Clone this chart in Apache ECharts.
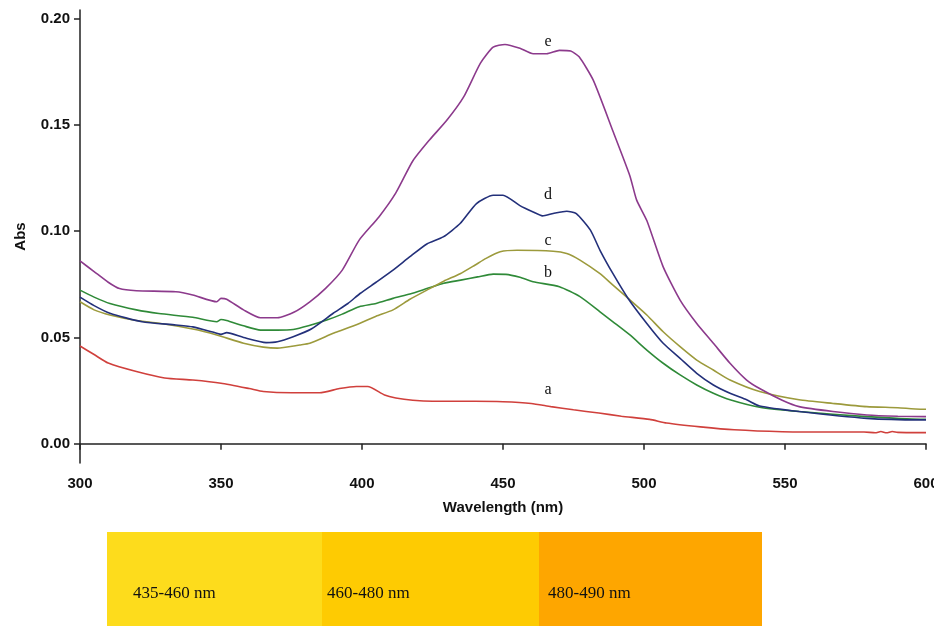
<!DOCTYPE html>
<html>
<head>
<meta charset="utf-8">
<script src="https://cdn.jsdelivr.net/npm/echarts@6/dist/echarts.min.js"></script>
<style>html,body{margin:0;padding:0;background:#fff;overflow:hidden;}#c{width:934px;height:626px;}</style>
</head>
<body>
<div id="c"></div>
<script>
// ---- data (wavelength nm, absorbance) ----
const seriesA = [[300,0.046],[305,0.042],[310,0.038],[320,0.034],[330,0.031],[340,0.030],[350,0.0285],[360,0.026],[365,0.0246],[375,0.024],[385,0.024],[392,0.026],[398,0.027],[402,0.027],[408,0.023],[412,0.0216],[418,0.0205],[425,0.020],[440,0.020],[450,0.0198],[460,0.019],[467,0.0175],[475,0.016],[484,0.0145],[492,0.013],[502,0.0115],[508,0.0098],[520,0.008],[532,0.0066],[549,0.0057],[565,0.0056],[578,0.0056],[582,0.0052],[584,0.0058],[586,0.0052],[588,0.0058],[590,0.0054],[598,0.0053],[600,0.0053]];
const seriesB = [[300,0.0723],[305,0.069],[310.6,0.066],[320,0.063],[328,0.0613],[340,0.0595],[348.5,0.0574],[350,0.0585],[352,0.058],[358,0.0555],[364,0.0535],[370,0.0535],[375.6,0.0538],[381,0.0555],[387.5,0.0582],[393,0.061],[399,0.0645],[405,0.066],[411,0.0684],[417,0.0705],[423,0.073],[429,0.0755],[435,0.077],[441,0.0785],[446.5,0.0798],[451,0.0797],[456,0.0783],[460.7,0.0762],[470,0.0739],[477.3,0.0692],[484.4,0.0621],[489,0.0574],[495,0.0512],[501,0.0441],[506.8,0.0379],[512.8,0.0324],[518.7,0.0277],[524.6,0.0238],[530.5,0.0207],[541,0.0172],[555,0.0152],[579,0.0128],[598,0.0116],[600,0.0116]];
const seriesC = [[300,0.0668],[305,0.063],[310.6,0.0606],[320,0.058],[328,0.0567],[340,0.054],[348.5,0.0512],[358,0.0473],[365,0.0455],[370,0.045],[378,0.0465],[381.5,0.0473],[389.8,0.052],[393,0.0535],[399.3,0.0567],[405,0.060],[411,0.063],[417,0.068],[423,0.0723],[429,0.0765],[434.8,0.080],[440,0.084],[444,0.0872],[449,0.0903],[455,0.091],[467.8,0.0906],[472.6,0.0895],[477.3,0.0864],[484.4,0.080],[489,0.0746],[494.3,0.0685],[501,0.0606],[506.8,0.0527],[512.8,0.0457],[518.7,0.0394],[524.6,0.0347],[530.5,0.030],[541,0.0246],[555,0.0207],[567,0.019],[579,0.0175],[590,0.017],[598,0.0163],[600,0.0163]];
const seriesD = [[300,0.069],[305,0.065],[310.6,0.0614],[322,0.0574],[334,0.0559],[340,0.055],[348.5,0.052],[350,0.0515],[352,0.0523],[358,0.050],[366,0.0476],[370,0.048],[375.6,0.0504],[382,0.054],[389.8,0.0614],[395,0.066],[399.3,0.0707],[405,0.076],[411,0.0817],[417,0.088],[423,0.094],[428.8,0.0973],[434.8,0.1036],[440.6,0.113],[446.5,0.1169],[450,0.1169],[456,0.112],[460.7,0.109],[464,0.1072],[467.8,0.1083],[472.6,0.1094],[476,0.1083],[481,0.1005],[484.4,0.091],[489,0.080],[494.3,0.0685],[501,0.0566],[506.8,0.0473],[512.8,0.0402],[518.7,0.0332],[524.6,0.0277],[530.5,0.0238],[536.4,0.0207],[541,0.0178],[555,0.0152],[579,0.012],[598,0.0113],[600,0.0113]];
const seriesE = [[300,0.086],[305,0.081],[310,0.076],[314,0.073],[320,0.072],[334,0.0715],[340,0.070],[348.5,0.0668],[350,0.0684],[352,0.068],[358,0.063],[364,0.0593],[370,0.0593],[376,0.062],[381.5,0.0668],[387,0.073],[393,0.0817],[399,0.0958],[406,0.1067],[412,0.118],[418,0.133],[424,0.143],[430,0.152],[436,0.163],[442,0.179],[446.5,0.1865],[450.7,0.1878],[456,0.186],[460.7,0.1834],[465.5,0.1834],[470,0.185],[474,0.1847],[477,0.182],[482,0.171],[489,0.147],[495,0.126],[497.4,0.1146],[501,0.105],[506.8,0.0832],[512.8,0.0676],[518.7,0.0566],[524.6,0.0473],[530.5,0.0379],[536.4,0.030],[541,0.026],[549,0.0205],[555,0.0175],[567,0.0152],[579,0.0136],[590,0.013],[600,0.0128]];
const curveNames = ['a','b','c','d','e'];
const labelAnchors = [[466,0.0255],[466,0.0805],[466,0.0955],[466,0.117],[466,0.189]];
const xTicks = [300,350,400,450,500,550,600];
const yTicks = [0,0.05,0.10,0.15,0.20];
const bandLabels = ['435-460 nm','460-480 nm','480-490 nm'];

const colors = ['#d0403c','#2f8a38','#9c9a3c','#23307a','#8c3a8c'];
const allData = [seriesA, seriesB, seriesC, seriesD, seriesE];

const chart = echarts.init(document.getElementById('c'), null, {renderer:'canvas'});
const axisFont = {fontFamily:'Liberation Sans, Arial, sans-serif', fontWeight:'bold', fontSize:15, color:'#111'};

const series = allData.map((d,i)=>({
  type:'line', name:curveNames[i], data:d, showSymbol:false, smooth:0.2,
  lineStyle:{color:colors[i], width:1.6}, itemStyle:{color:colors[i]},
  animation:false, z: 2+i,
  markPoint:{
    symbol:'circle', symbolSize:0, silent:true, animation:false,
    data:[{coord:labelAnchors[i], value:curveNames[i]}],
    label:{show:true, position:'inside', formatter:curveNames[i], color:'#111',
      fontFamily:'Liberation Serif, Times New Roman, serif', fontSize:16}
  }
}));

const bandColors = ['#fddc1c','#fecb02','#fea600'];
const bandX = [107,322,539,762];
const graphics = [];
for (let i=0;i<3;i++){
  graphics.push({type:'rect', shape:{x:bandX[i], y:532, width:bandX[i+1]-bandX[i], height:94}, style:{fill:bandColors[i]}, silent:true});
  graphics.push({type:'text', x:bandX[i]+ (i===0?26:(i===1?5:9)), y:594, style:{text:bandLabels[i], fill:'#111', font:'17px "Liberation Serif", "Times New Roman", serif', textVerticalAlign:'middle'}, silent:true});
}

chart.setOption({
  animation:false,
  backgroundColor:'#fff',
  grid:{left:80, right:8, top:10, bottom:163, outerBoundsMode:'none', containLabel:false},
  xAxis:{type:'value', min:300, max:600, interval:50,
    name:'Wavelength (nm)', nameLocation:'middle', nameGap:37,
    nameTextStyle:axisFont,
    axisLine:{show:true, lineStyle:{color:'#222', width:1.5}},
    axisTick:{show:true, length:6, lineStyle:{color:'#222', width:1.5}},
    axisLabel:Object.assign({margin:13, showMaxLabel:true, showMinLabel:true, hideOverlap:false}, axisFont),
    splitLine:{show:false}},
  yAxis:{type:'value', min:-0.009, max:0.204,
    name:'Abs', nameLocation:'middle', nameGap:52, nameRotate:90,
    nameTextStyle:axisFont,
    axisLine:{show:true, lineStyle:{color:'#222', width:1.5}},
    axisTick:{show:true, length:6, customValues:yTicks, lineStyle:{color:'#222', width:1.5}},
    axisLabel:Object.assign({margin:10, customValues:yTicks, formatter:v=>v.toFixed(2)}, axisFont),
    splitLine:{show:false}},
  series: series,
  graphic: graphics
});
</script>
</body>
</html>
